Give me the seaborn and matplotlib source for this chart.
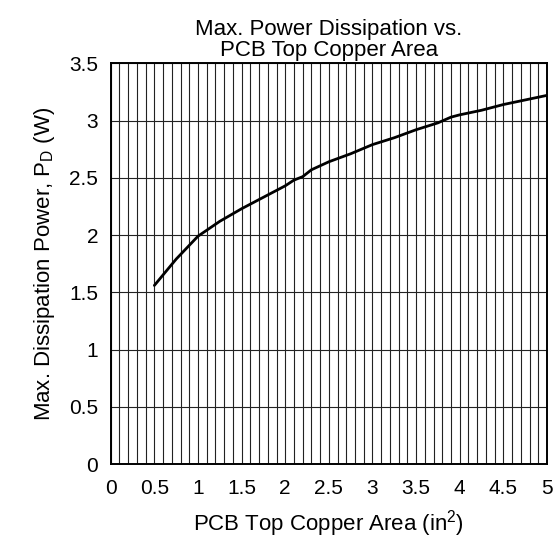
import matplotlib
matplotlib.use("Agg")
import matplotlib.pyplot as plt
import seaborn as sns
import numpy as np
import pandas as pd
from matplotlib.ticker import MultipleLocator

# Data
area = [0.5, 0.75, 1.0, 1.25, 1.5, 1.75, 2.0, 2.1, 2.2, 2.3, 2.5, 2.75, 3.0,
        3.25, 3.5, 3.75, 3.9, 4.0, 4.25, 4.5, 4.75, 5.0]
power = [1.56, 1.79, 1.99, 2.12, 2.23, 2.33, 2.43, 2.48, 2.51, 2.57, 2.64, 2.71,
         2.79, 2.85, 2.92, 2.98, 3.03, 3.05, 3.09, 3.14, 3.18, 3.22]
x_ticks = [0, 0.5, 1, 1.5, 2, 2.5, 3, 3.5, 4, 4.5, 5]
x_tick_labels = ["0", "0.5", "1", "1.5", "2", "2.5", "3", "3.5", "4", "4.5", "5"]
y_ticks = [0, 0.5, 1, 1.5, 2, 2.5, 3, 3.5]
y_tick_labels = ["0", "0.5", "1", "1.5", "2", "2.5", "3", "3.5"]

df = pd.DataFrame({"area": area, "power": power})

sns.set_theme(style="white")
plt.rcParams["font.family"] = ["Liberation Sans", "DejaVu Sans"]
plt.rcParams["mathtext.fontset"] = "custom"
plt.rcParams["mathtext.rm"] = "Liberation Sans"
plt.rcParams["mathtext.it"] = "Liberation Sans"

fig = plt.figure(figsize=(5.57, 5.44), dpi=100)
ax = fig.add_axes([0.1988, 0.147, 0.7832, 0.7366])

sns.lineplot(data=df, x="area", y="power", ax=ax, color="black", linewidth=2.0,
             estimator=None, sort=False)

ax.set_xlim(0, 5)
ax.set_ylim(0, 3.5)
ax.xaxis.set_minor_locator(MultipleLocator(0.1))
ax.set_xticks(x_ticks)
ax.set_xticklabels(x_tick_labels)
ax.set_yticks(y_ticks)
ax.set_yticklabels(y_tick_labels)
ax.grid(True, which="both", axis="x", color="#222222", linewidth=0.8)
ax.grid(True, which="major", axis="y", color="#222222", linewidth=0.8)
ax.set_axisbelow(True)
ax.tick_params(axis="both", which="both", length=0, labelsize=15, colors="black")
ax.tick_params(axis="x", pad=11)
ax.tick_params(axis="y", pad=9)
for s in ax.spines.values():
    s.set_color("black")
    s.set_linewidth(1.4)

ax.set_title("Max. Power Dissipation vs.\nPCB Top Copper Area", fontsize=16,
             color="black", pad=5, linespacing=1.0)
ax.set_xlabel("PCB Top Copper Area (in$^2$)", fontsize=16, color="black", labelpad=7)
ax.set_ylabel("Max. Dissipation Power, P$_\\mathrm{D}$ (W)", fontsize=16,
              color="black", labelpad=9)

fig.savefig("out.png", dpi=100)
